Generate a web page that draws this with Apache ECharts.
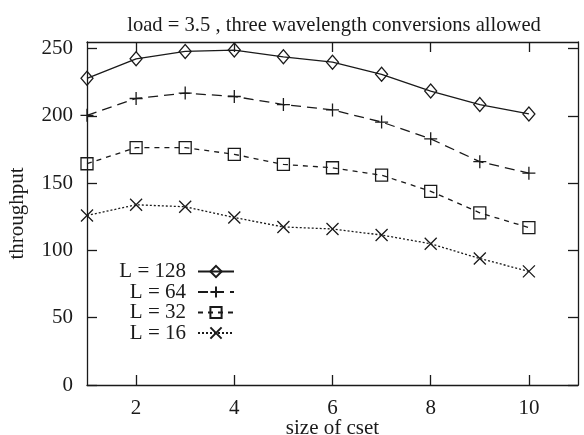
<!DOCTYPE html>
<html><head><meta charset="utf-8">
<script src="https://cdn.jsdelivr.net/npm/echarts@6/dist/echarts.min.js"></script>
<style>html,body{margin:0;padding:0;background:#fff}#c{width:584px;height:435px}</style>
</head><body><div id="c"></div>
<script>
const xValues = [1, 2, 3, 4, 5, 6, 7, 8, 9, 10];
const seriesNames = ['L = 128', 'L = 64', 'L = 32', 'L = 16'];
const l128 = [228, 242.5, 248, 249, 244, 240, 231, 218.5, 208.5, 201.5];
const l64 = [200.5, 213, 217, 214.5, 208.5, 204.5, 195.5, 183, 166, 157.5];
const l32 = [164.5, 176.5, 176.5, 171.5, 164, 161.5, 156, 144, 128, 117];
const l16 = [126, 134, 132.5, 124.5, 117.5, 116, 111.5, 105, 94, 84.5];
const xTicks = [2, 4, 6, 8, 10];
const yTicks = [0, 50, 100, 150, 200, 250];

const FONT = 'Liberation Serif';
const INK = '#1a1a1a';
const plusPath = 'path://M0,-10L0,10M-10,0L10,0';
const crossPath = 'path://M-10,-10L10,10M-10,10L10,-10';

function mk(name, data, symbol, size, dash) {
  return {
    name: name, type: 'line',
    data: xValues.map((x, i) => [x, data[i]]),
    symbol: symbol, symbolSize: size, showAllSymbol: true,
    lineStyle: {color: INK, width: 1.3, type: dash},
    itemStyle: {color: 'rgba(0,0,0,0)', borderColor: INK, borderWidth: 1.3},
    emphasis: {disabled: true},
    animation: false
  };
}

const chart = echarts.init(document.getElementById('c'), null, {renderer: 'canvas'});
const axisLineStyle = {show: true, onZero: false, lineStyle: {color: INK, width: 1.3}};
const tickStyle = (vals) => ({show: true, inside: true, length: 10, customValues: vals, lineStyle: {color: INK, width: 1.3}});
chart.setOption({
  backgroundColor: '#fff',
  animation: false,
  title: {
    text: 'load = 3.5 , three wavelength conversions allowed',
    left: 329, top: 10, textAlign: 'center',
    textStyle: {fontFamily: FONT, fontSize: 20.6, fontWeight: 'normal', color: INK}
  },
  legend: {
    orient: 'vertical', left: 96, top: 256, align: 'right',
    itemWidth: 36, itemHeight: 14, itemGap: -0.5,
    data: seriesNames,
    formatter: n => '{a|' + n + '}',
    textStyle: {
      fontFamily: FONT, fontSize: 21, color: INK,
      rich: {a: {fontFamily: FONT, fontSize: 21, color: INK, width: 85, align: 'right', lineHeight: 19, padding: [0, 7, 0, 0]}}
    },
    selectedMode: false
  },
  grid: {left: 87, right: 6, top: 42, bottom: 50, containLabel: false, outerBoundsMode: 'none'},
  xAxis: [{
    type: 'value', min: 1, max: 11, interval: 1, position: 'bottom',
    name: 'size of cset', nameLocation: 'middle', nameGap: 33, nameMoveOverlap: false,
    nameTextStyle: {fontFamily: FONT, fontSize: 21, color: INK},
    axisLine: axisLineStyle, splitLine: {show: false},
    axisTick: tickStyle(xTicks),
    axisLabel: {show: true, customValues: xTicks, margin: 13, fontFamily: FONT, fontSize: 21, color: INK}
  }, {
    type: 'value', min: 1, max: 11, interval: 1, position: 'top',
    axisLine: axisLineStyle, splitLine: {show: false},
    axisTick: tickStyle(xTicks),
    axisLabel: {show: false}
  }],
  yAxis: [{
    type: 'value', min: 0, max: 255, interval: 50, position: 'left',
    name: 'throughput', nameLocation: 'middle', nameGap: 59, nameMoveOverlap: false,
    nameTextStyle: {fontFamily: FONT, fontSize: 21, color: INK},
    axisLine: axisLineStyle, splitLine: {show: false},
    axisTick: tickStyle(yTicks),
    axisLabel: {show: true, customValues: yTicks, margin: 14, fontFamily: FONT, fontSize: 21, color: INK}
  }, {
    type: 'value', min: 0, max: 255, interval: 50, position: 'right',
    axisLine: axisLineStyle, splitLine: {show: false},
    axisTick: tickStyle(yTicks),
    axisLabel: {show: false}
  }],
  series: [
    mk(seriesNames[0], l128, 'diamond', [12, 14], 'solid'),
    mk(seriesNames[1], l64, plusPath, 13, [10, 6]),
    mk(seriesNames[2], l32, 'rect', 12, [5, 5]),
    mk(seriesNames[3], l16, crossPath, 12, [2, 2])
  ]
});
</script>
</body></html>
